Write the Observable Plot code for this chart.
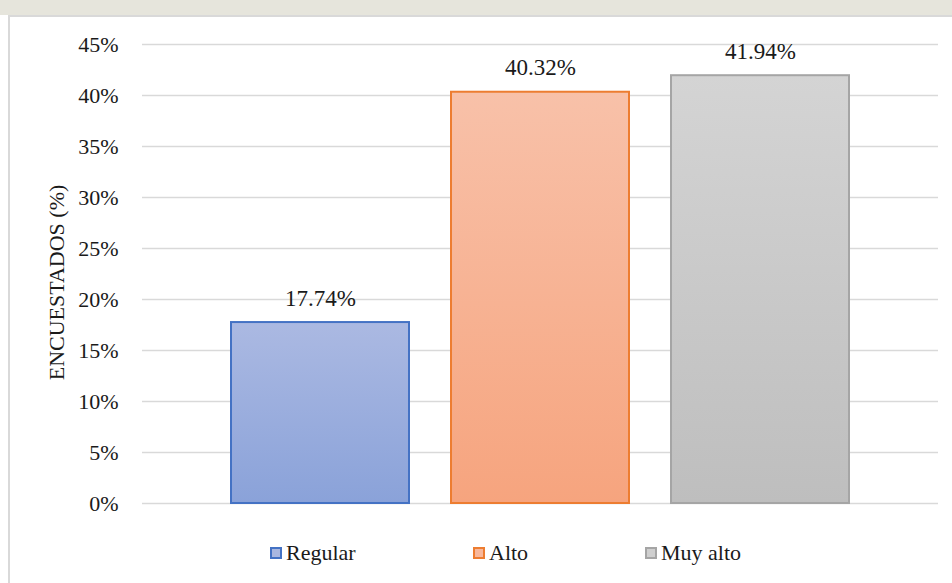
<!DOCTYPE html>
<html>
<head>
<meta charset="utf-8">
<script src="https://cdn.jsdelivr.net/npm/d3@7"></script>
<script src="https://cdn.jsdelivr.net/npm/@observablehq/plot@0.6"></script>
<style>
  html, body { margin: 0; padding: 0; background: #ffffff; }
  #page { position: relative; width: 952px; height: 583px; overflow: hidden; font-family: "Liberation Serif", "Times New Roman", serif; }
  #strip { position: absolute; left: 0; top: 0; width: 952px; height: 15px; background: #e6e5dc; }
  #frame { position: absolute; left: 8px; top: 15px; width: 1000px; height: 700px; border-left: 2px solid #d9d9d9; border-top: 2px solid #d9d9d9; background: #ffffff; box-sizing: border-box; }
  #chart { position: absolute; left: 0; top: 0; }
  #chart svg text { font-family: "Liberation Serif", "Times New Roman", serif !important; }
  #legend { position: absolute; left: 0; top: 530px; width: 952px; height: 53px; }
  .item { position: absolute; top: 12px; height: 22px; display: flex; align-items: center; font-size: 22px; line-height: 22px; color: #1a1a1a; }
  .swatch { width: 12px; height: 12px; box-sizing: border-box; border: 2px solid; margin-right: 4px; }
</style>
</head>
<body>
<div id="page">
  <div id="strip"></div>
  <div id="frame"></div>
  <div id="chart"></div>
  <div id="legend"></div>
</div>
<script>
// Data
const categories = ["Regular", "Alto", "Muy alto"];
const values = [17.74, 40.32, 41.94];
const labels = ["17.74%", "40.32%", "41.94%"];
const yTicks = [0, 5, 10, 15, 20, 25, 30, 35, 40, 45];
const yTitle = "ENCUESTADOS (%)";

// Styles
const serif = "'Liberation Serif', 'Times New Roman', serif";
const strokes = ["#4472c4", "#ed7d31", "#a5a5a5"];
const gradTop = ["#abb9e2", "#f8c1a9", "#d4d4d4"];
const gradBottom = ["#8aa2d9", "#f6a47e", "#bebebe"];
const swatchFill = ["#a9b7e0", "#f8b89c", "#cfcfcf"];
const legendLeft = [270, 473, 645];

const data = categories.map((c, i) => ({cat: c, value: values[i], label: labels[i], idx: i}));

const plot = Plot.plot({
  width: 952,
  height: 530,
  marginTop: 44,
  marginBottom: 27,
  marginLeft: 142,
  marginRight: 14,
  style: {background: "transparent", fontFamily: serif, fontSize: "22px", color: "#1a1a1a"},
  x: {domain: categories, paddingInner: 0.191, paddingOuter: 0.4045, axis: null},
  y: {domain: [0, 45], ticks: yTicks, tickFormat: d => d + "%", tickSize: 0, tickPadding: 24, label: null},
  marks: [
    Plot.ruleY(yTicks, {stroke: "#d9d9d9", strokeWidth: 1.5}),
    Plot.barY(data, {x: "cat", y: "value", fill: d => `url(#grad${d.idx})`, stroke: d => strokes[d.idx], strokeWidth: 2}),
    Plot.text(data, {x: "cat", y: "value", text: "label", dy: -17, lineAnchor: "bottom", fill: "#1a1a1a", fontSize: 23, fontFamily: serif}),
    Plot.axisY({ticks: yTicks, tickFormat: d => d + "%", tickSize: 0, tickPadding: 24, label: null, fontSize: 22, fontFamily: serif, fill: "#1a1a1a"})
  ]
});

const ns = "http://www.w3.org/2000/svg";
// gradient defs
const defs = document.createElementNS(ns, "defs");
categories.forEach((c, i) => {
  const g = document.createElementNS(ns, "linearGradient");
  g.setAttribute("id", "grad" + i);
  g.setAttribute("x1", "0"); g.setAttribute("y1", "0");
  g.setAttribute("x2", "0"); g.setAttribute("y2", "1");
  const s1 = document.createElementNS(ns, "stop");
  s1.setAttribute("offset", "0"); s1.setAttribute("stop-color", gradTop[i]);
  const s2 = document.createElementNS(ns, "stop");
  s2.setAttribute("offset", "1"); s2.setAttribute("stop-color", gradBottom[i]);
  g.appendChild(s1); g.appendChild(s2);
  defs.appendChild(g);
});
plot.insertBefore(defs, plot.firstChild);

// y-axis title, centred on the plot frame (vertically) and placed left of tick labels
const yScale = plot.scale("y");
const yMid = (yScale.range[0] + yScale.range[1]) / 2 + 9;
const title = document.createElementNS(ns, "text");
title.setAttribute("transform", `translate(57,${yMid}) rotate(-90)`);
title.setAttribute("text-anchor", "middle");
title.setAttribute("dy", "0.32em");
title.setAttribute("font-size", "22");
title.setAttribute("fill", "#1a1a1a");
title.textContent = yTitle;
plot.appendChild(title);

plot.querySelectorAll("text").forEach(t => { t.style.fontFamily = serif; });

document.getElementById("chart").appendChild(plot);

// legend
const legend = document.getElementById("legend");
categories.forEach((c, i) => {
  const item = document.createElement("div");
  item.className = "item";
  item.style.left = legendLeft[i] + "px";
  const sw = document.createElement("span");
  sw.className = "swatch";
  sw.style.borderColor = strokes[i];
  sw.style.background = swatchFill[i];
  const t = document.createElement("span");
  t.textContent = c;
  item.appendChild(sw); item.appendChild(t);
  legend.appendChild(item);
});
</script>
</body>
</html>
